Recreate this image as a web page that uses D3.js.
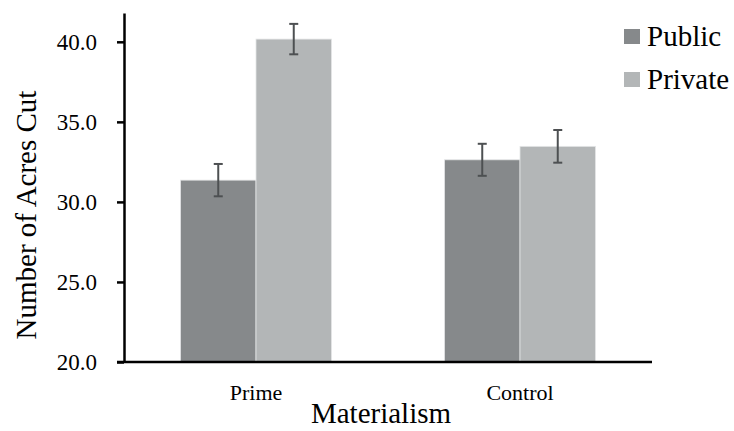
<!DOCTYPE html>
<html>
<head>
<meta charset="utf-8">
<script src="https://cdn.jsdelivr.net/npm/d3@7"></script>
<style>
	body { margin: 0; background: #fff; }
	svg text { font-family: "Liberation Serif", "Times New Roman", Times, "DejaVu Serif", serif !important; fill: #000; }
</style>
</head>
<body>
<svg width="734" height="431" id="chart"></svg>
<script>
	var categories = ["Prime", "Control"];
	var series = ["Public", "Private"];
	var publicMeans = [31.36, 32.63];
	var privateMeans = [40.17, 33.47];
	var publicErr = [1.01, 1.0];
	var privateErr = [0.95, 1.02];
	var yTicks = [20, 25, 30, 35, 40];
	var colors = ["#86898b", "#b3b6b7"];

	var svg = d3.select("svg#chart");

	var plotLeft = 124, plotRight = 652, plotTop = 13, plotBottom = 362;

	var x = d3.scaleBand()
		.domain(categories)
		.range([plotLeft, plotRight])
		.paddingInner(0.428)
		.paddingOuter(0.214);

	var x1 = d3.scaleBand()
		.domain(series)
		.range([0, x.bandwidth()]);

	var y = d3.scaleLinear()
		.domain([20, 41.8])
		.range([plotBottom, plotTop]);

	var rows = categories.map(function(c, i) {
		return [
			{ cat: c, s: "Public", v: publicMeans[i], e: publicErr[i] },
			{ cat: c, s: "Private", v: privateMeans[i], e: privateErr[i] }
		];
	});
	var flat = [].concat.apply([], rows);

	// bars
	svg.selectAll(".bar")
		.data(flat)
		.enter().append("rect")
		.attr("class", "bar")
		.attr("x", function(d) { return x(d.cat) + x1(d.s); })
		.attr("width", x1.bandwidth())
		.attr("y", function(d) { return y(d.v); })
		.attr("height", function(d) { return plotBottom - y(d.v); })
		.attr("fill", function(d) { return colors[series.indexOf(d.s)]; })
		.attr("stroke", "#e4e5e6")
		.attr("stroke-width", 0.8);

	// error bars
	var eb = svg.selectAll(".err")
		.data(flat)
		.enter().append("g")
		.attr("class", "err")
		.attr("stroke", "#4d5052")
		.attr("stroke-width", 2);
	function cx(d) { return x(d.cat) + x1(d.s) + x1.bandwidth() / 2; }
	eb.append("line")
		.attr("x1", cx).attr("x2", cx)
		.attr("y1", function(d) { return y(d.v + d.e); })
		.attr("y2", function(d) { return y(d.v - d.e); });
	eb.append("line")
		.attr("x1", function(d) { return cx(d) - 4.5; })
		.attr("x2", function(d) { return cx(d) + 4.5; })
		.attr("y1", function(d) { return y(d.v + d.e); })
		.attr("y2", function(d) { return y(d.v + d.e); });
	eb.append("line")
		.attr("x1", function(d) { return cx(d) - 4.5; })
		.attr("x2", function(d) { return cx(d) + 4.5; })
		.attr("y1", function(d) { return y(d.v - d.e); })
		.attr("y2", function(d) { return y(d.v - d.e); });

	// y axis
	var yAxis = svg.append("g")
		.attr("transform", "translate(" + plotLeft + ",0)")
		.call(d3.axisLeft(y).tickValues(yTicks).tickFormat(d3.format(".1f")).tickSize(7).tickPadding(20).tickSizeOuter(0));
	yAxis.attr("font-family", null);
	yAxis.select(".domain").attr("stroke", "#000").attr("stroke-width", 2.5);
	yAxis.selectAll(".tick line").attr("stroke", "#000").attr("stroke-width", 2.5);
	yAxis.selectAll(".tick text")
		.style("font-size", "23px")
		.attr("fill", "#000");

	// x axis
	var xAxis = svg.append("g")
		.attr("transform", "translate(0," + plotBottom + ")")
		.call(d3.axisBottom(x).tickSize(0).tickPadding(22).tickSizeOuter(0));
	xAxis.attr("font-family", null);
	xAxis.select(".domain").attr("stroke", "#000").attr("stroke-width", 2.5)
		.attr("d", "M" + (plotLeft - 7) + ",0H" + plotRight);
	xAxis.selectAll(".tick text")
		.style("font-size", "22px")
		.attr("fill", "#000");

	// axis titles
	svg.append("text")
		.attr("x", (plotLeft + plotRight) / 2 - 7)
		.attr("y", 423)
		.attr("text-anchor", "middle")
		.style("font-size", "29px")
		.text("Materialism");

	svg.append("text")
		.attr("transform", "translate(36,215) rotate(-90)")
		.attr("text-anchor", "middle")
		.style("font-size", "29px")
		.text("Number of Acres Cut");

	// legend
	var lg = svg.selectAll(".legend")
		.data(series)
		.enter().append("g")
		.attr("class", "legend")
		.attr("transform", function(d, i) { return "translate(624," + (29 + i * 43) + ")"; });
	lg.append("rect")
		.attr("width", 16)
		.attr("height", 15)
		.attr("fill", function(d, i) { return colors[i]; });
	lg.append("text")
		.attr("x", 23)
		.attr("y", 17)
		.style("font-size", "29px")
		.text(function(d) { return d; });
</script>
</body>
</html>
